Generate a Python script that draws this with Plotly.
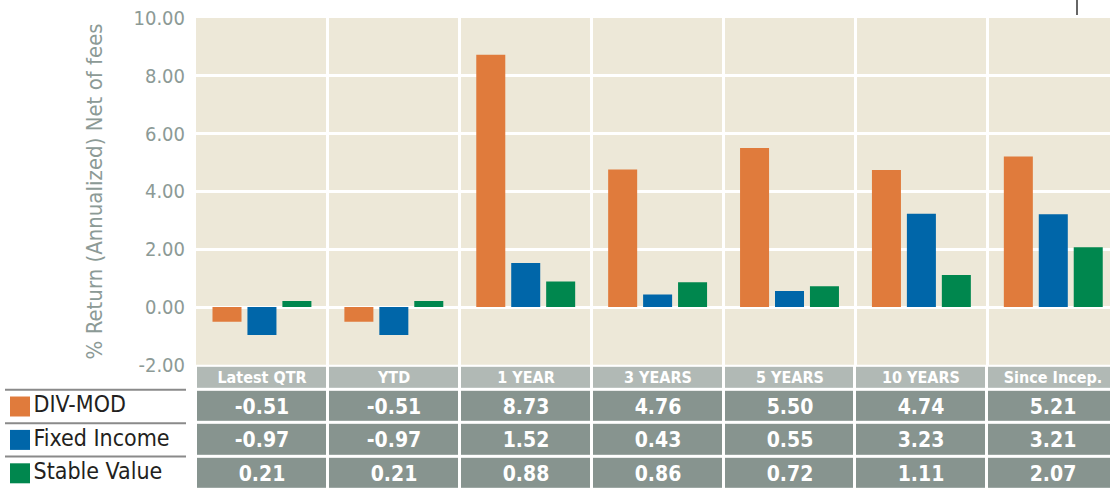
import plotly.graph_objects as go

categories = ["Latest QTR", "YTD", "1 YEAR", "3 YEARS", "5 YEARS", "10 YEARS", "Since Incep."]
div_mod = [-0.51, -0.51, 8.73, 4.76, 5.50, 4.74, 5.21]
fixed_income = [-0.97, -0.97, 1.52, 0.43, 0.55, 3.23, 3.21]
stable_value = [0.21, 0.21, 0.88, 0.86, 0.72, 1.11, 2.07]
series_names = ["DIV-MOD", "Fixed Income", "Stable Value"]
series_values = [div_mod, fixed_income, stable_value]
series_colors = ["#e07b3c", "#0066a9", "#00874e"]
y_ticks = [-2, 0, 2, 4, 6, 8, 10]
y_tick_labels = [f"{v:.2f}" for v in y_ticks]

W, H = 1110, 490
TOP = 18
PH = H - TOP
FONT = "DejaVu Sans Condensed, Roboto, sans-serif"
GRAY_TXT = "#8c9a96"
BEIGE = "#ede8d8"

# table geometry (in y2 units == pixels)
HEADER_H = 24
ROW_H = 33.4
TABLE_H = HEADER_H + ROW_H * len(series_names)

fig = go.Figure()

# beige plotting area for the bar chart
fig.add_shape(type="rect", xref="x domain", yref="y domain", x0=0, x1=1, y0=0, y1=1,
              fillcolor=BEIGE, line_width=0, layer="below")

for name, vals, col in zip(series_names, series_values, series_colors):
    fig.add_trace(go.Bar(x=categories, y=vals, name=name, marker_color=col,
                         marker_line_width=0, showlegend=False,
                         xaxis="x", yaxis="y"))

n = len(series_names)
row_edges = [ROW_H * i for i in range(n + 1)]           # bottom -> top
header_edges = [row_edges[-1], row_edges[-1] + HEADER_H]

# header row
fig.add_trace(go.Heatmap(
    x=categories, y=header_edges, z=[[0] * len(categories)],
    text=[categories], texttemplate="%{text}",
    textfont=dict(family=FONT, size=16, color="white", weight="bold"),
    colorscale=[[0, "#b1b9b5"], [1, "#b1b9b5"]], showscale=False,
    xgap=3, ygap=3, hoverinfo="skip", xaxis="x", yaxis="y2"))

# value rows (top row = first series)
z_vals = [s for s in reversed(series_values)]
fig.add_trace(go.Heatmap(
    x=categories, y=row_edges, z=z_vals,
    text=[[f"{v:.2f}" for v in s] for s in z_vals], texttemplate="%{text}",
    textfont=dict(family=FONT, size=21, color="white", weight="bold"),
    colorscale=[[0, "#87948f"], [1, "#87948f"]], showscale=False,
    xgap=3, ygap=3, hoverinfo="skip", xaxis="x", yaxis="y2"))

# legend column
row_centers = [(row_edges[i] + row_edges[i + 1]) / 2 for i in range(n)][::-1]
fig.add_trace(go.Scatter(
    x=[15] * n, y=row_centers, mode="markers+text",
    marker=dict(symbol="square", size=20, color=series_colors, line_width=0),
    text=series_names, textposition="middle right",
    textfont=dict(family=FONT, size=23, color="#231f20"),
    showlegend=False, cliponaxis=False, hoverinfo="skip",
    xaxis="x3", yaxis="y2"))

for yb in row_edges[1:]:
    fig.add_shape(type="line", xref="x3 domain", yref="y2", x0=0, x1=1, y0=yb, y1=yb,
                  line=dict(color="#8a8a8a", width=2))

# small mark at the top right
fig.add_shape(type="line", xref="paper", yref="paper", x0=1077 / W, x1=1077 / W,
              y0=1 + (TOP - 15) / PH, y1=1 + TOP / PH, line=dict(color="#333333", width=1.5))

x0 = 196 / W
table_top = TABLE_H / PH
plot_bottom = (TABLE_H + 1) / PH

fig.update_layout(
    template="none",
    width=W, height=H, autosize=False,
    margin=dict(l=0, r=0, t=TOP, b=0, pad=0, autoexpand=False),
    paper_bgcolor="white",
    plot_bgcolor="white",
    showlegend=False,
    barmode="group", bargap=0.205, bargroupgap=0.17,
    xaxis=dict(domain=[x0, 1], range=[-0.5, 6.43], showticklabels=False, automargin=False,
               showgrid=True, gridcolor="white", gridwidth=3, tickson="boundaries",
               ticks="", zeroline=False, fixedrange=True, showline=False),
    yaxis=dict(domain=[plot_bottom, 1], range=[-2, 10], tickvals=y_ticks, ticktext=y_tick_labels,
               showgrid=True, gridcolor="white", gridwidth=3, zeroline=True, automargin=False,
               zerolinecolor="white", zerolinewidth=3, ticks="", ticklabelstandoff=10,
               showline=False,
               tickfont=dict(family=FONT, size=20, color=GRAY_TXT),
               title=dict(text="% Return (Annualized) Net of fees", standoff=24,
                          font=dict(family=FONT, size=22, color=GRAY_TXT))),
    yaxis2=dict(domain=[0, table_top], range=[0, TABLE_H], visible=False, anchor="x",
                automargin=False),
    xaxis3=dict(domain=[5 / W, 186 / W], range=[0, 181], visible=False, anchor="y2",
                automargin=False),
    font=dict(family=FONT),
)

fig.write_html(
    "out.html",
    config={"displayModeBar": False, "responsive": False},
    post_script=("document.body.style.margin='0px';"
                 "document.body.style.overflow='hidden';"
                 "document.documentElement.style.overflow='hidden';"
                 "var g=document.getElementById('{plot_id}');"
                 "g.style.position='fixed';g.style.top='0px';g.style.left='0px';"),
)
